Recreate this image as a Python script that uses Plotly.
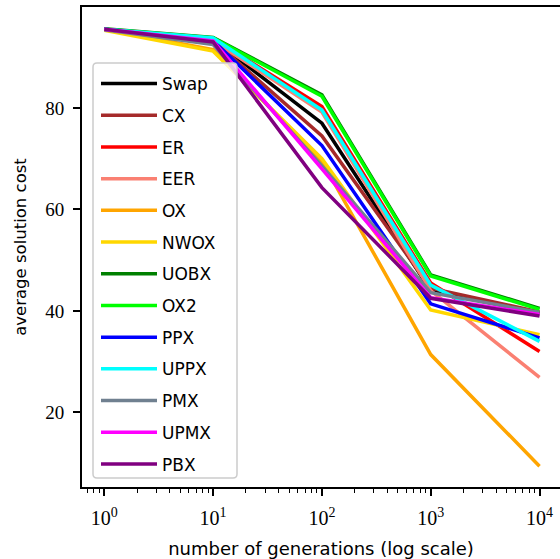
import plotly.graph_objects as go

generations = [1, 10, 100, 1000, 10000]
names = ["Swap", "CX", "ER", "EER", "OX", "NWOX", "UOBX", "OX2", "PPX", "UPPX", "PMX", "UPMX", "PBX"]
colors = ["#000000", "#a52a2a", "#ff0000", "#fa8072", "#ffa500", "#ffd700", "#008000",
          "#00ff00", "#0000ff", "#00ffff", "#708090", "#ff00ff", "#800080"]

swap = [95.5, 93.5, 77.0, 44.0, 39.6]
cx = [95.5, 93.3, 74.5, 44.5, 39.8]
er = [95.5, 93.7, 80.3, 45.5, 32.0]
eer = [95.5, 93.3, 79.2, 44.0, 26.9]
ox = [95.5, 91.5, 69.5, 31.4, 9.4]
nwox = [95.3, 91.2, 70.0, 40.2, 35.3]
uobx = [95.6, 93.9, 82.6, 47.1, 40.5]
ox2 = [95.5, 93.8, 82.3, 46.9, 40.3]
ppx = [95.5, 93.3, 72.6, 41.4, 34.7]
uppx = [95.5, 93.8, 79.6, 45.1, 34.0]
pmx = [95.4, 92.5, 68.6, 43.6, 39.7]
upmx = [95.5, 93.2, 68.0, 42.6, 39.3]
pbx = [95.5, 93.0, 64.3, 42.5, 39.0]

series = [swap, cx, er, eer, ox, nwox, uobx, ox2, ppx, uppx, pmx, upmx, pbx]

x_tickvals = [1, 10, 100, 1000, 10000]
x_ticktext = ["10<sup>0</sup>", "10<sup>1</sup>", "10<sup>2</sup>", "10<sup>3</sup>", "10<sup>4</sup>"]
y_tickvals = [20, 40, 60, 80]

minor_vals = [m * 10 ** e for e in range(-1, 5) for m in range(2, 10)]

fig = go.Figure()
for name, col, ys in zip(names, colors, series):
    fig.add_trace(go.Scatter(x=generations, y=ys, mode="lines", name=name,
                             line=dict(color=col, width=3.5), legendgroup=name))

W, H = 560, 559
L, R, T, B = 82, 0, 7, 72

fig.update_layout(
    width=W, height=H,
    margin=dict(l=L, r=R, t=T, b=B),
    plot_bgcolor="white", paper_bgcolor="white",
    font=dict(family="DejaVu Sans", color="black"),
    showlegend=True,
    legend=dict(
        x=(96 - L) / (W - L - R), y=1 - (66 - T) / (H - T - B),
        xanchor="left", yanchor="top",
        bgcolor="rgba(0,0,0,0)", borderwidth=0,
        font=dict(size=17, family="DejaVu Sans", color="black"),
        tracegroupgap=6.6, itemwidth=56,
    ),
    xaxis=dict(
        type="log", range=[-0.205, 4.188],
        tickvals=x_tickvals, ticktext=x_ticktext,
        ticks="outside", ticklen=7, tickwidth=1.5, tickcolor="black",
        ticklabelstandoff=5,
        showline=True, linecolor="black", linewidth=2, mirror=True,
        showgrid=False, zeroline=False,
        tickfont=dict(family="Liberation Serif", size=20),
        minor=dict(tickvals=minor_vals, ticks="outside", ticklen=4, tickwidth=1.2,
                   tickcolor="black", showgrid=False),
        title=dict(text="number of generations (log scale)",
                   font=dict(family="DejaVu Sans", size=18), standoff=14),
    ),
    yaxis=dict(
        range=[5.3, 99.9],
        tickvals=y_tickvals,
        ticks="outside", ticklen=7, tickwidth=1.5, tickcolor="black",
        ticklabelstandoff=5,
        showline=True, linecolor="black", linewidth=2,
        showgrid=False, zeroline=False,
        tickfont=dict(family="Liberation Serif", size=19),
        title=dict(text="average solution cost",
                   font=dict(family="DejaVu Sans", size=16.5), standoff=14),
    ),
    shapes=[dict(
        type="path", xref="paper", yref="paper", layer="above",
        path=("M {a},{b} L {c},{b} Q {d},{b} {d},{e} L {d},{f} Q {d},{g} {c},{g} "
              "L {a},{g} Q {h},{g} {h},{f} L {h},{e} Q {h},{b} {a},{b} Z").format(
            a=(97 - L) / 478, c=(233 - L) / 478, d=(237 - L) / 478, h=(93 - L) / 478,
            b=1 - (63 - T) / 480, e=1 - (67 - T) / 480,
            f=1 - (474 - T) / 480, g=1 - (478 - T) / 480),
        fillcolor="rgba(255,255,255,0.8)", line=dict(color="#cccccc", width=1.5),
    )],
)

fig.write_html("out.html")
